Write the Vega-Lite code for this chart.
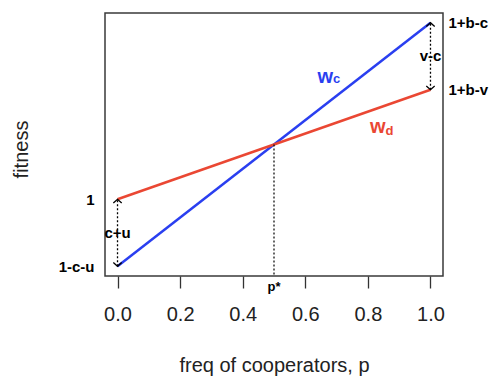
{
  "$schema": "https://vega.github.io/schema/vega-lite/v6.json",
  "width": 338,
  "height": 263,
  "autosize": "none",
  "padding": {"left": 105, "top": 13, "right": 48, "bottom": 100},
  "background": "white",
  "config": {
    "view": {"stroke": "#3a3a3a", "strokeWidth": 1.5},
    "font": "Liberation Sans",
    "axis": {"labelFont": "Liberation Sans", "titleFont": "Liberation Sans", "grid": false}
  },
  "datasets": {
    "lines": [
      {"p": 0, "w": 0, "s": "wc"}, {"p": 1, "w": 1, "s": "wc"},
      {"p": 0, "w": 0.275, "s": "wd"}, {"p": 1, "w": 0.725, "s": "wd"}
    ],
    "arrows": [
      {"p": 0, "lo": 0, "hi": 0.275},
      {"p": 1, "lo": 0.725, "hi": 1}
    ],
    "heads": [
      {"p": 0, "w": 0.275, "dir": "up"}, {"p": 0, "w": 0, "dir": "down"},
      {"p": 1, "w": 1, "dir": "up"}, {"p": 1, "w": 0.725, "dir": "down"}
    ],
    "pstar": [{"p": 0.5, "top": 0.5, "bottom": -0.04, "t": "p*"}],
    "diffs": [
      {"p": 0, "w": 0.1375, "t": "c+u"},
      {"p": 1, "w": 0.8625, "t": "v-c"}
    ],
    "wl": [
      {"p": 0.664, "w": 0.754, "t": "w", "s": "wc"},
      {"p": 0.832, "w": 0.547, "t": "w", "s": "wd"}
    ],
    "subs": [
      {"p": 0.700, "w": 0.751, "t": "c", "s": "wc"},
      {"p": 0.869, "w": 0.539, "t": "d", "s": "wd"}
    ]
  },
  "encoding": {
    "x": {
      "field": "p", "type": "quantitative",
      "scale": {"domain": [-0.04, 1.04], "nice": false, "zero": false},
      "axis": {
        "values": [0, 0.2, 0.4, 0.6, 0.8, 1], "format": ".1f",
        "title": "freq of cooperators, p",
        "labelFontSize": 20, "labelColor": "#222", "labelBaseline": "alphabetic", "labelPadding": 32.5,
        "tickSize": 12, "tickColor": "#333", "tickWidth": 1.3, "domain": false,
        "titleFontSize": 20, "titleFontWeight": "normal", "titleColor": "#222",
        "titleBaseline": "alphabetic", "titleY": 95.5
      }
    }
  },
  "layer": [
    {
      "data": {"name": "lines"},
      "mark": {"type": "line", "strokeWidth": 2.5},
      "encoding": {
        "y": {
          "field": "w", "type": "quantitative",
          "scale": {"domain": [-0.04, 1.04], "nice": false, "zero": false},
          "axis": {
            "values": [0, 0.275],
            "labelExpr": "datum.value < 0.1 ? '1-c-u' : '1'",
            "labelFontWeight": "bold", "labelFontSize": 15, "labelColor": "black",
            "ticks": false, "domain": false, "labelPadding": 11,
            "title": "fitness", "titleFontSize": 20, "titleFontWeight": "normal", "titleColor": "#222",
            "titleX": -74, "titleY": 136
          }
        },
        "color": {"field": "s", "type": "nominal", "scale": {"domain": ["wc", "wd"], "range": ["#2a3ff0", "#ea4733"]}, "legend": null},
        "order": {"field": "s", "sort": "ascending"}
      }
    },
    {
      "data": {"name": "pstar"},
      "mark": {"type": "rule", "strokeDash": [2, 2], "strokeWidth": 1.2, "color": "black"},
      "encoding": {
        "y": {"field": "top", "type": "quantitative", "axis": null},
        "y2": {"field": "bottom"}
      }
    },
    {
      "data": {"name": "pstar"},
      "mark": {"type": "text", "fontWeight": "bold", "fontSize": 13, "baseline": "top", "dy": 5, "color": "black"},
      "encoding": {
        "y": {"field": "bottom", "type": "quantitative", "axis": null},
        "text": {"field": "t"}
      }
    },
    {
      "data": {"name": "arrows"},
      "mark": {"type": "rule", "strokeDash": [2, 2], "strokeWidth": 1.3, "color": "black"},
      "encoding": {
        "y": {
          "field": "lo", "type": "quantitative",
          "axis": {
            "orient": "right",
            "values": [0.725, 1],
            "labelExpr": "datum.value > 0.9 ? '1+b-c' : '1+b-v'",
            "labelFontWeight": "bold", "labelFontSize": 15, "labelColor": "black",
            "ticks": false, "domain": false, "labelPadding": 5, "title": null
          }
        },
        "y2": {"field": "hi"}
      }
    },
    {
      "data": {"name": "heads"},
      "mark": {"type": "point", "filled": false, "stroke": "black", "strokeWidth": 1.3, "size": 70, "opacity": 1},
      "encoding": {
        "y": {"field": "w", "type": "quantitative", "axis": null},
        "shape": {"field": "dir", "type": "nominal", "scale": {"domain": ["up", "down"], "range": ["M-1,0.9L0,0L1,0.9", "M-1,-0.9L0,0L1,-0.9"]}, "legend": null}
      }
    },
    {
      "data": {"name": "diffs"},
      "mark": {"type": "text", "fontWeight": "bold", "fontSize": 15, "color": "black", "baseline": "middle", "align": "center"},
      "encoding": {
        "y": {"field": "w", "type": "quantitative", "axis": null},
        "text": {"field": "t"}
      }
    },
    {
      "data": {"name": "wl"},
      "mark": {"type": "text", "fontWeight": "bold", "fontSize": 20, "baseline": "alphabetic", "align": "center"},
      "encoding": {
        "y": {"field": "w", "type": "quantitative", "axis": null},
        "text": {"field": "t"},
        "color": {"field": "s", "type": "nominal", "legend": null}
      }
    },
    {
      "data": {"name": "subs"},
      "mark": {"type": "text", "fontWeight": "bold", "fontSize": 13, "baseline": "alphabetic", "align": "center"},
      "encoding": {
        "y": {"field": "w", "type": "quantitative", "axis": null},
        "text": {"field": "t"},
        "color": {"field": "s", "type": "nominal", "legend": null}
      }
    }
  ],
  "resolve": {"axis": {"y": "independent"}}
}
